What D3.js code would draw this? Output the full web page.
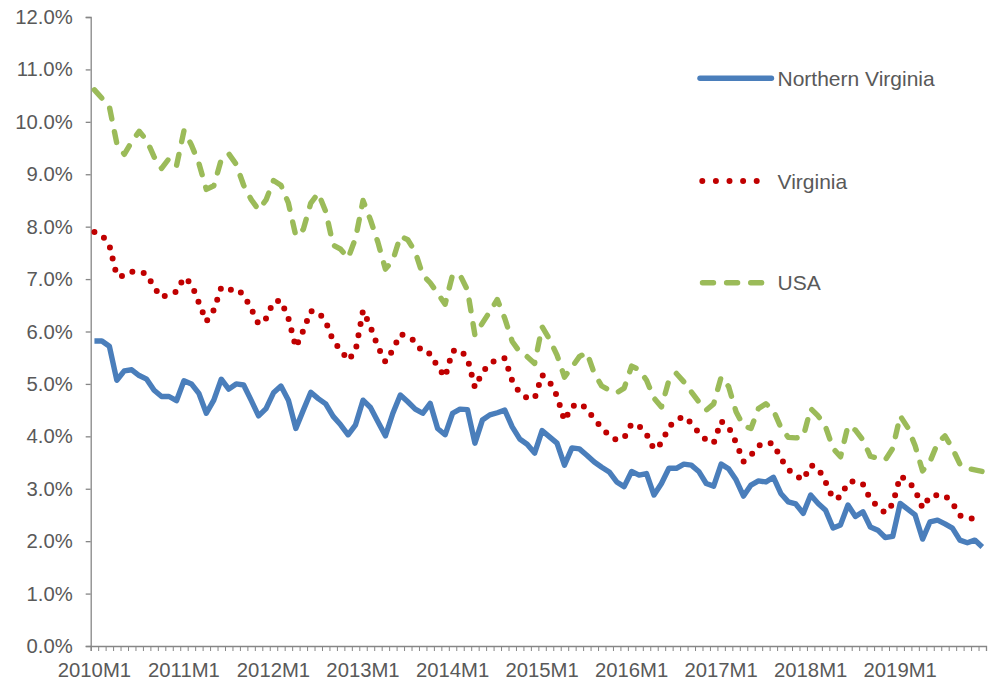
<!DOCTYPE html>
<html>
<head>
<meta charset="utf-8">
<script src="https://cdn.jsdelivr.net/npm/d3@7"></script>
<style>
  body { margin: 0; background: #fff; }
  svg text { font-family: "Liberation Sans", Arial, sans-serif; fill: #595959; }
</style>
</head>
<body>
<svg id="chart" width="998" height="683"></svg>
<script>
// one label per January, the axis has 120 monthly categories
const years = [2010, 2011, 2012, 2013, 2014, 2015, 2016, 2017, 2018, 2019];
const months = years.flatMap(y => d3.range(1, 13).map(m => `${y}M${m}`));
const tickLabels = years.map(y => `${y}M1`);
const yTicks = [0, 1, 2, 3, 4, 5, 6, 7, 8, 9, 10, 11, 12];

const seriesNames = ["Northern Virginia", "Virginia", "USA"];

// unemployment rate, percent
const northernVirginia = [
  5.82, 5.82, 5.72, 5.07, 5.25, 5.27, 5.16, 5.09, 4.88, 4.76, 4.76, 4.68,
  5.06, 5.00, 4.82, 4.44, 4.69, 5.09, 4.90, 5.00, 4.98, 4.69, 4.39, 4.53,
  4.83, 4.96, 4.69, 4.15, 4.50, 4.84, 4.72, 4.62, 4.38, 4.22, 4.03, 4.22,
  4.69, 4.55, 4.28, 4.01, 4.44, 4.79, 4.66, 4.52, 4.44, 4.63, 4.15, 4.03,
  4.44, 4.52, 4.51, 3.87, 4.31, 4.41, 4.45, 4.50, 4.18, 3.95, 3.85, 3.68,
  4.11, 3.99, 3.87, 3.45, 3.78, 3.76, 3.64, 3.51, 3.41, 3.32, 3.13, 3.04,
  3.33, 3.26, 3.29, 2.88, 3.10, 3.39, 3.39, 3.47, 3.45, 3.33, 3.10, 3.05,
  3.47, 3.38, 3.17, 2.86, 3.07, 3.15, 3.13, 3.22, 2.91, 2.75, 2.71, 2.53,
  2.88, 2.72, 2.59, 2.25, 2.31, 2.69, 2.47, 2.56, 2.27, 2.21, 2.07, 2.09,
  2.72, 2.61, 2.50, 2.04, 2.37, 2.40, 2.33, 2.25, 2.02, 1.97, 2.02, 1.89
];

const virginia = [
  7.90, 7.84, 7.65, 7.06, 7.06, 7.14, 7.14, 7.10, 6.84, 6.65, 6.71, 6.76,
  7.03, 6.91, 6.55, 6.19, 6.41, 6.84, 6.79, 6.82, 6.70, 6.44, 6.14, 6.25,
  6.57, 6.59, 6.25, 5.70, 6.02, 6.39, 6.37, 6.19, 5.82, 5.65, 5.45, 5.63,
  6.40, 6.09, 5.71, 5.42, 5.65, 5.95, 5.91, 5.81, 5.60, 5.58, 5.33, 5.13,
  5.63, 5.65, 5.49, 4.93, 5.22, 5.39, 5.47, 5.49, 5.06, 4.83, 4.73, 4.72,
  5.17, 5.04, 4.77, 4.30, 4.57, 4.63, 4.53, 4.32, 4.17, 4.01, 3.93, 3.97,
  4.24, 4.20, 4.04, 3.75, 3.87, 4.18, 4.31, 4.38, 4.25, 4.07, 3.93, 3.87,
  4.29, 4.18, 3.88, 3.52, 3.64, 3.82, 3.88, 3.86, 3.58, 3.37, 3.25, 3.17,
  3.45, 3.39, 3.13, 2.81, 2.84, 3.12, 3.15, 3.09, 2.80, 2.66, 2.54, 2.71,
  3.24, 3.16, 2.98, 2.63, 2.86, 2.88, 2.87, 2.73, 2.49, 2.45, 2.42, 2.40
];

const usa = [
  10.61, 10.45, 10.29, 9.59, 9.38, 9.62, 9.82, 9.65, 9.33, 9.11, 9.30, 9.16,
  9.83, 9.56, 9.21, 8.71, 8.78, 9.28, 9.39, 9.19, 8.79, 8.52, 8.32, 8.51,
  8.88, 8.79, 8.45, 7.82, 7.95, 8.45, 8.64, 8.29, 7.65, 7.57, 7.40, 7.78,
  8.50, 8.13, 7.70, 7.19, 7.36, 7.82, 7.75, 7.52, 7.08, 6.93, 6.73, 6.52,
  7.08, 7.08, 6.79, 5.93, 6.16, 6.38, 6.61, 6.25, 5.81, 5.61, 5.52, 5.39,
  6.09, 5.85, 5.55, 5.13, 5.32, 5.52, 5.60, 5.20, 4.96, 4.88, 4.83, 4.92,
  5.34, 5.27, 5.07, 4.73, 4.56, 5.07, 5.20, 5.04, 4.85, 4.66, 4.50, 4.62,
  5.13, 4.95, 4.47, 4.20, 4.15, 4.53, 4.62, 4.50, 4.17, 3.98, 3.97, 3.99,
  4.53, 4.39, 4.18, 3.77, 3.61, 4.20, 4.12, 3.93, 3.62, 3.58, 3.55, 3.77,
  4.39, 4.17, 3.82, 3.34, 3.52, 3.87, 4.01, 3.77, 3.47, 3.39, 3.36, 3.33
];

const svg = d3.select("#chart");
const axisColor = "#868686";
const labelSize = 20.3;

// category axis: boundaries 0..120, points sit in the middle of each slot
const xScale = d3.scaleLinear()
    .domain([0, months.length])
    .range([90.7, 986]);
const xMid = i => xScale(i + 0.5);

const yScale = d3.scaleLinear()
    .domain([0, 12])
    .range([646, 17]);

// y axis
const yAxis = svg.append("g")
    .attr("transform", `translate(${xScale(0)},0)`)
    .call(d3.axisLeft(yScale)
        .tickValues(yTicks)
        .tickSize(5)
        .tickPadding(13)
        .tickFormat(d => d.toFixed(1) + "%"));
yAxis.select(".domain").attr("stroke", axisColor).attr("stroke-width", 1.3);
yAxis.selectAll(".tick line").attr("stroke", axisColor).attr("stroke-width", 1.3);
yAxis.selectAll(".tick text")
    .attr("font-size", labelSize)
    .attr("font-family", "Liberation Sans, Arial, sans-serif")
    .attr("fill", "#595959");

// x axis: a tick on every category boundary, labels only in January
const xAxis = svg.append("g")
    .attr("transform", `translate(0,${yScale(0)})`)
    .call(d3.axisBottom(xScale)
        .tickValues(d3.range(0, months.length + 1))
        .tickSize(5)
        .tickFormat(""));
xAxis.select(".domain").attr("stroke", axisColor).attr("stroke-width", 1.3);
xAxis.selectAll(".tick line").attr("stroke", axisColor).attr("stroke-width", 1);

svg.append("g")
    .selectAll("text")
    .data(tickLabels)
    .join("text")
    .attr("x", d => xMid(months.indexOf(d)))
    .attr("y", 677)
    .attr("text-anchor", "middle")
    .attr("font-size", labelSize)
    .text(d => d);

const line = d3.line()
    .x((d, i) => xMid(i))
    .y(d => yScale(d));

const styles = [
    { data: northernVirginia, color: "#4A7EBB", width: 5.4, dash: null },
    { data: virginia, color: "#C00000", width: 6, dash: "0 11.5" },
    { data: usa, color: "#9BBB59", width: 5.4, dash: "11 13" }
];

// draw USA first so Northern Virginia sits on top
[2, 1, 0].forEach(k => {
    const s = styles[k];
    svg.append("path")
        .datum(s.data)
        .attr("fill", "none")
        .attr("stroke", s.color)
        .attr("stroke-width", s.width)
        .attr("stroke-linejoin", "round")
        .attr("stroke-linecap", s.dash ? "round" : "butt")
        .attr("stroke-dasharray", s.dash)
        .attr("d", line);
});

// legend
const legendY = [78.3, 181, 282.7];
const legend = svg.append("g");
seriesNames.forEach((name, k) => {
    const s = styles[k];
    const y = legendY[k];
    const x0 = k === 1 ? 702.3 : (k === 2 ? 702.5 : 700);
    const x1 = k === 1 ? 757 : (k === 2 ? 762 : 771.5);
    legend.append("line")
        .attr("x1", x0).attr("x2", x1)
        .attr("y1", y).attr("y2", y)
        .attr("stroke", s.color)
        .attr("stroke-width", s.width)
        .attr("stroke-linecap", "round")
        .attr("stroke-dasharray", k === 1 ? "0 13.6" : (k === 2 ? "11 13.1" : null));
    legend.append("text")
        .attr("x", 777.5)
        .attr("y", y + 7.5)
        .attr("font-size", 21)
        .text(name);
});
</script>
</body>
</html>
